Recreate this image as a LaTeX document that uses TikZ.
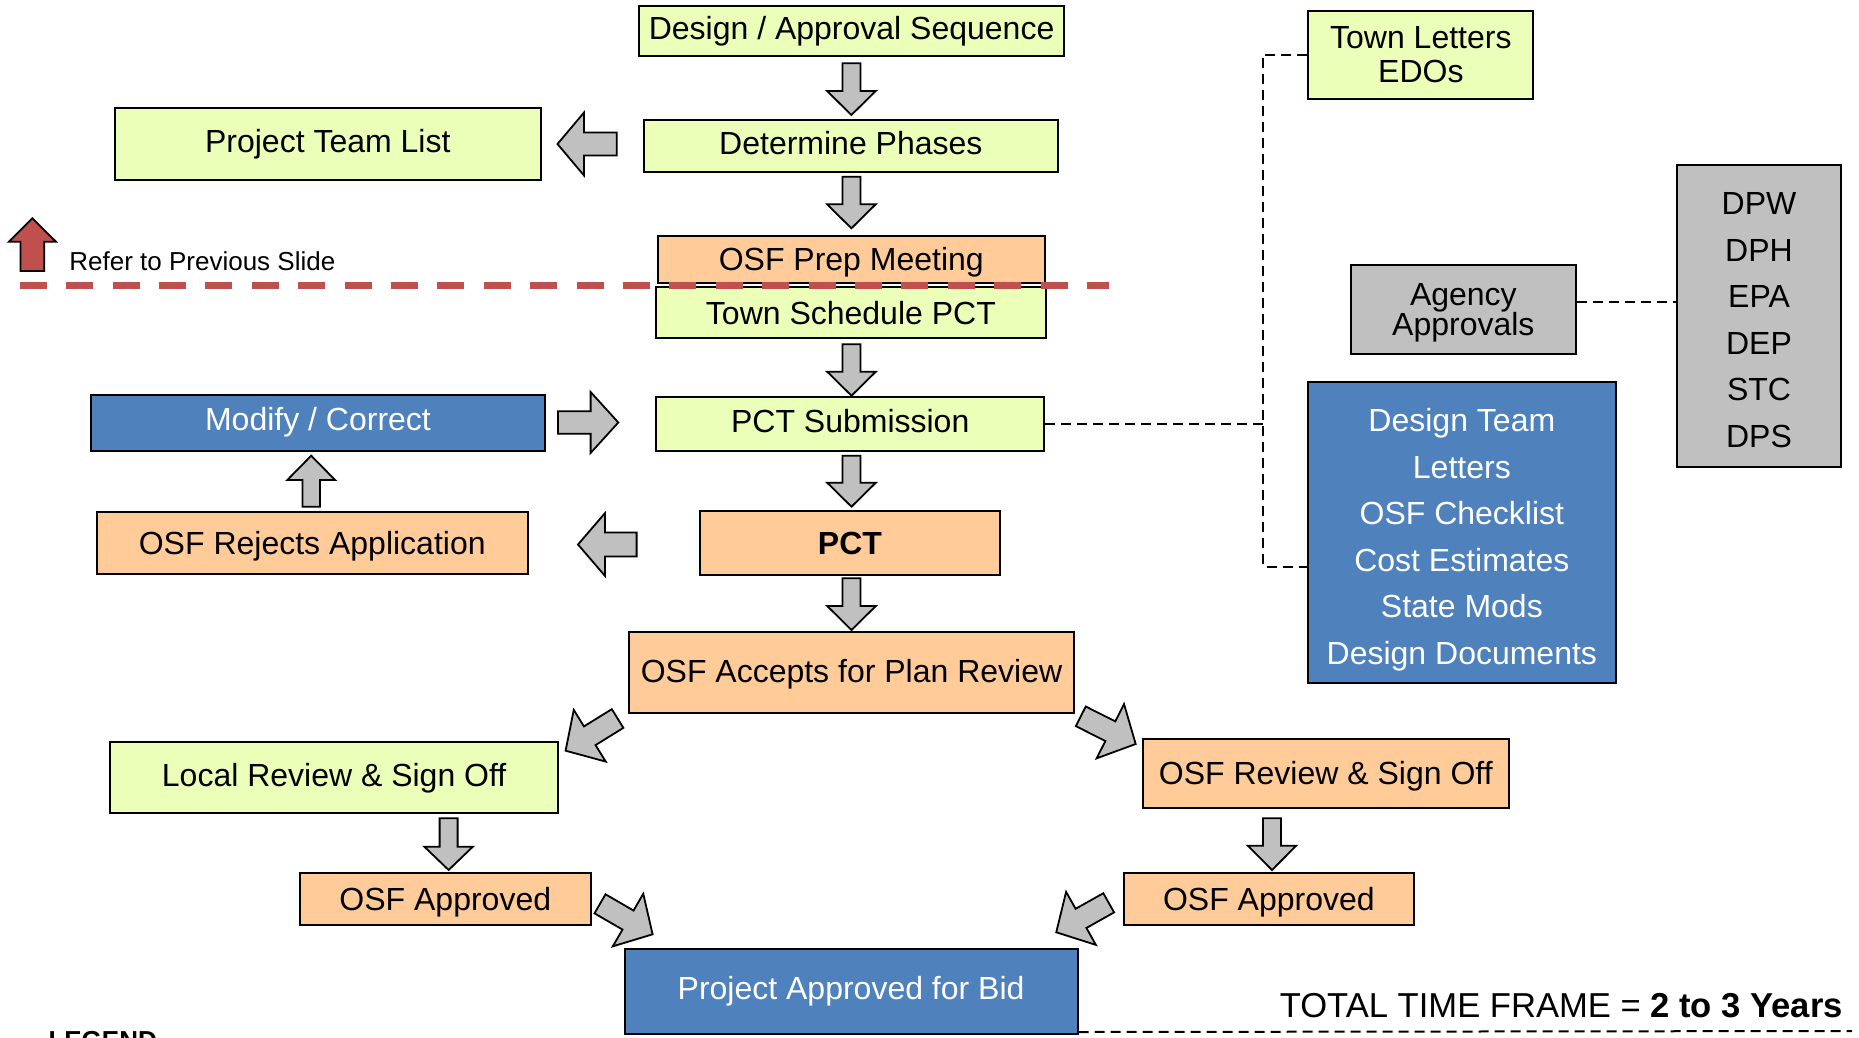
\documentclass[tikz,border=0pt]{standalone}
\usepackage{fontspec}
\setmainfont{Liberation Sans}
\usetikzlibrary{calc}
\definecolor{boxgreen}{RGB}{235,255,185}
\definecolor{boxorange}{RGB}{255,204,153}
\definecolor{boxblue}{RGB}{79,129,189}
\definecolor{boxgray}{RGB}{192,192,192}
\definecolor{redline}{RGB}{192,80,77}
\newcommand\blockarr[8][arrowshape]{%
  \pgfmathsetmacro\bdx{#4-#2}%
  \pgfmathsetmacro\bdy{#3-#5}%
  \pgfmathsetmacro\bang{atan2(\bdy,\bdx)}%
  \pgfmathsetmacro\blen{veclen(\bdx,\bdy)}%
  \pgfmathsetmacro\bhb{\blen-#8}%
  \begin{scope}[shift={(#2,#3)},rotate=\bang]
    \draw[#1] (0,#6) -- (\bhb,#6) -- (\bhb,#7) -- (\blen,0) -- (\bhb,-#7) -- (\bhb,-#6) -- (0,-#6) -- cycle;
  \end{scope}}
\tikzset{
  box/.style={draw=black, line width=2pt, inner sep=0pt, align=center,
    font=\fontsize{32}{34}\selectfont},
  onel/.style={text height=23pt, text depth=#1pt},
  onel/.default=6,
  gbox/.style={box, onel=#1, fill=boxgreen},
  gbox/.default=6,
  obox/.style={box, onel=#1, fill=boxorange},
  obox/.default=6,
  bbox/.style={box, onel=#1, fill=boxblue, text=white},
  bbox/.default=6,
  listtext/.style={inner sep=0pt, align=center},
  arrowshape/.style={draw=black, line width=1.8pt, fill=boxgray, line join=miter},
  redshape/.style={draw=black, line width=1.8pt, fill=redline, line join=miter},
  conn/.style={draw=black, line width=2pt, dash pattern=on 10pt off 6pt},
  reddash/.style={draw=redline, line width=6.5pt, dash pattern=on 27pt off 19.4pt},
}
\begin{document}
\begin{tikzpicture}[x=1pt,y=-1pt]
\useasboundingbox (0,0) rectangle (1859,1037);
\clip (0,0) rectangle (1859,1037);
\fill[white] (0,0) rectangle (1859,1037);

% main column
\node[gbox=5.7, minimum width=424.4, minimum height=50] (das) at (851.6,30.7) {Design / Approval Sequence};
\node[gbox=7.3, minimum width=414.5, minimum height=51.7] (dp) at (850.85,146.15) {Determine Phases};
\node[gbox=7.3, minimum width=426.2, minimum height=71.7] (ptl) at (327.8,144.15) {Project Team List};
\node[obox=1.2, minimum width=386.9, minimum height=47] (prep) at (851.25,259.8) {OSF Prep Meeting};
\node[gbox=0.6, minimum width=390, minimum height=51] (tsp) at (850.9,312.8) {Town Schedule PCT};
\node[bbox=8.6, minimum width=454, minimum height=56] (mc) at (318,423) {Modify / Correct};
\node[gbox=6.4, minimum width=388, minimum height=53.4] (ps) at (850.2,424) {PCT Submission};
\node[obox=1, minimum width=430.7, minimum height=62.6] (rej) at (312.25,543) {OSF Rejects Application};
\node[obox=1, minimum width=299.1, minimum height=64] (pct) at (849.95,543) {\textbf{PCT}};
\node[obox=3, minimum width=445, minimum height=81] (acc) at (851.5,672.8) {OSF Accepts for Plan Review};
\node[gbox=5, minimum width=447.7, minimum height=71] (loc) at (334.15,777.2) {Local Review \& Sign Off};
\node[obox=1.4, minimum width=366.4, minimum height=69] (osfr) at (1325.8,773.5) {OSF Review \& Sign Off};
\node[obox=0, minimum width=290.6, minimum height=52.3] (oa1) at (445.3,898.85) {OSF Approved};
\node[obox=0, minimum width=289.4, minimum height=52.3] (oa2) at (1268.9,898.85) {OSF Approved};
\node[bbox=8.3, minimum width=453, minimum height=84.7] (pab) at (851.1,991.65) {Project Approved for Bid};

% right side
\node[box, fill=boxgreen, minimum width=224.9, minimum height=88.3, font=\fontsize{32}{33.7}\selectfont] (tl) at (1420.85,54.85) {Town Letters\\EDOs};
\node[box, fill=boxgray, minimum width=225.7, minimum height=89.3] (aa) at (1463.35,309.65) {};
\node[listtext, font=\fontsize{32}{30}\selectfont] (aatext) at ([yshift=-3pt]aa.center) {Agency\\Approvals};
\node[box, fill=boxgray, minimum width=164, minimum height=301.7] (dpw) at (1759,315.85) {};
\node[listtext, font=\fontsize{32}{46.5}\selectfont] (dpwtext) at ([yshift=-4.5pt]dpw.center) {DPW\\DPH\\EPA\\DEP\\STC\\DPS};
\node[box, fill=boxblue, minimum width=308.3, minimum height=301.2] (dt) at (1461.85,532.4) {};
\node[listtext, text=white, font=\fontsize{32}{46.6}\selectfont] (dttext) at ([yshift=-7.3pt]dt.center) {Design Team\\Letters\\OSF Checklist\\Cost Estimates\\State Mods\\Design Documents};

% dashed connectors
\coordinate (jt) at (1263,54.85);
\coordinate (jb) at (1263,566.7);
\coordinate (rend) at (1852,1031);
\draw[conn] (tl.west) -- (jt) -- (jb) -- (dt.west |- jb);
\draw[conn] (ps.east) -- (ps.east -| jt);
\draw[conn] ([yshift=7.65pt]aa.east) -- ([yshift=7.65pt]aa.east -| dpw.west);
\draw[conn] ([yshift=3pt]pab.south east) -- (rend);

% block arrows: tail x,y ; tip x,y ; shaft half ; head half ; head length
\blockarr{851.4}{63.3}{851.4}{115}{9}{24.3}{24}
\blockarr{851.4}{176.7}{851.4}{228.3}{9}{24.3}{24}
\blockarr{851.5}{344.3}{851.5}{395.7}{9}{24.3}{24}
\blockarr{851.5}{455.7}{851.5}{506.7}{9}{24.3}{24}
\blockarr{851.5}{578.3}{851.5}{630}{9}{24.3}{24}
\blockarr{448.6}{818.3}{448.6}{870}{9}{24.2}{23.3}
\blockarr{1272}{818.3}{1272}{870}{9}{24.2}{24.3}
\blockarr{616.8}{144}{557.5}{144}{11.5}{31.5}{26.5}
\blockarr{558}{422.5}{618.3}{422.5}{11.2}{30.5}{27.7}
\blockarr{636.6}{544.5}{578}{544.5}{12}{31.3}{26.9}
\blockarr{311.2}{506.7}{311.2}{455.7}{8.7}{23.9}{24.3}
\blockarr{617.6}{718.5}{565.6}{750.7}{11}{30.4}{28.4}
\blockarr{1080.8}{716.3}{1135.7}{744}{11}{30.4}{28.4}
\blockarr{600}{903.8}{652.6}{934.3}{11}{30.4}{28.4}
\blockarr{1108.7}{902.8}{1056.2}{932.3}{11}{30.4}{28.4}
\blockarr[redshape]{32.4}{271}{32.4}{218.3}{11.85}{23.55}{23.4}

% red dashed separator
\coordinate (rda) at (19.8,285.5);
\coordinate (rdb) at (1109,285.5);
\draw[reddash] (rda) -- (rdb);

% free texts
\node[anchor=base west, inner sep=0pt, font=\fontsize{26}{28}\selectfont] (refer) at (69.2,270.7) {Refer to Previous Slide};
\node[anchor=base east, inner sep=0pt, font=\fontsize{34.6}{36}\selectfont] (ttf) at (1843,1017) {TOTAL TIME FRAME = \textbf{2 to 3 Years}};
\node[anchor=base west, inner sep=0pt, font=\bfseries\fontsize{26}{28}\selectfont] (legend) at (48.3,1049.3) {LEGEND};
\end{tikzpicture}
\end{document}
